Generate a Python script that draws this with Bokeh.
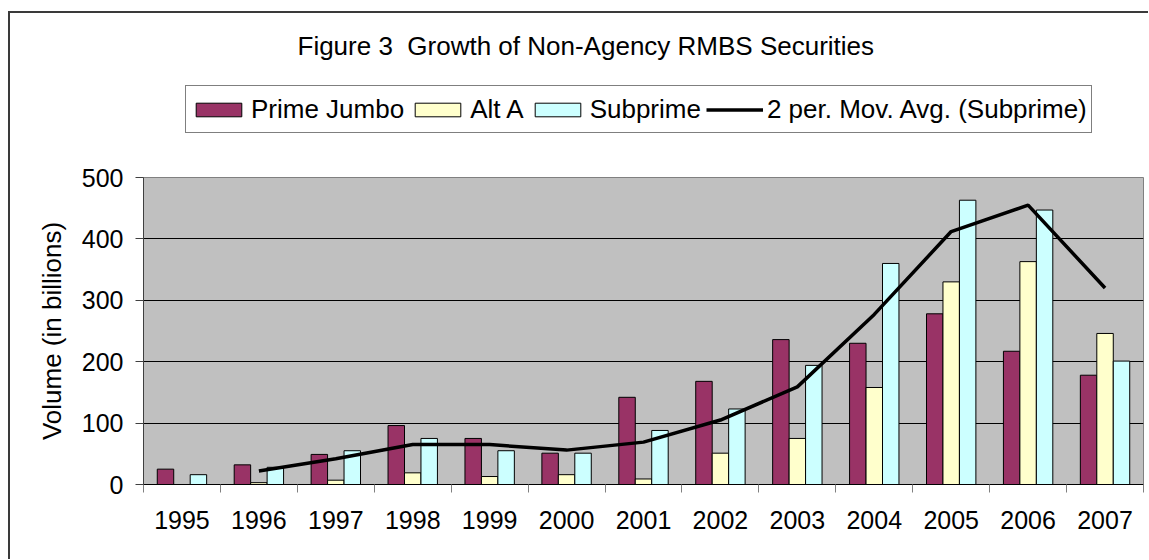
from bokeh.plotting import figure
from bokeh.layouts import column
from bokeh.models import Range1d, FixedTicker, Legend, LegendItem, ColumnDataSource, Label
from bokeh.transform import dodge
from bokeh.embed import file_html
from bokeh.resources import INLINE

years = [1995, 1996, 1997, 1998, 1999, 2000, 2001, 2002, 2003, 2004, 2005, 2006, 2007]
prime_jumbo = [25, 32, 49, 96, 75, 51, 142, 168, 236, 230, 278, 217, 178]
alt_a = [0, 3, 7, 19, 13, 16, 9, 51, 75, 158, 330, 363, 246]
subprime = [16, 28, 55, 75, 55, 51, 88, 123, 194, 360, 463, 447, 201]
mov_avg_years = [1996, 1997, 1998, 1999, 2000, 2001, 2002, 2003, 2004, 2005, 2006, 2007]
mov_avg = [22, 42, 65, 65, 56, 69, 105, 159, 277, 412, 455, 320]
y_ticks = [0, 100, 200, 300, 400, 500]
series_names = ["Prime Jumbo", "Alt A", "Subprime", "2 per. Mov. Avg. (Subprime)"]
title_text = "Figure 3\u00a0 Growth of Non-Agency RMBS Securities"

FONT = "Liberation Sans"
C_PRIME = "#993366"
C_ALT = "#FFFFCC"
C_SUB = "#CCFFFF"

W = 1140
TOP_H = 140
BOT_H = 408
FRAME_W = 1000

# ---------- header: title + legend (frame aligned with the chart's frame) ----------
head = figure(width=W, height=TOP_H, output_backend="svg", toolbar_location=None,
              x_range=Range1d(0, FRAME_W), y_range=Range1d(0, TOP_H),
              x_axis_type=None, y_axis_type=None,
              min_border_left=135, min_border_right=5, min_border_top=0, min_border_bottom=0)
try:
    head.title = None
except Exception:
    head.title.text = ""
    head.title.standoff = 0
    head.title.visible = False
head.outline_line_color = None
head.background_fill_color = None
head.border_fill_color = None
head.grid.visible = False

# far off-screen samples so that the legend can draw its swatches
d1 = head.vbar(x=[-9000], top=[-9000], bottom=[-9001], width=1,
               fill_color=C_PRIME, line_color="black", line_width=1)
d2 = head.vbar(x=[-9000], top=[-9000], bottom=[-9001], width=1,
               fill_color=C_ALT, line_color="black", line_width=1)
d3 = head.vbar(x=[-9000], top=[-9000], bottom=[-9001], width=1,
               fill_color=C_SUB, line_color="black", line_width=1)
d4 = head.line(x=[-9000, -8990], y=[-9000, -9000], line_color="black", line_width=3.5)

head.add_layout(Label(x=154, y=105.5, text=title_text, text_align="left",
                      text_baseline="alphabetic", text_font=FONT,
                      text_font_size="26px", text_color="black"))

legend = Legend(items=[LegendItem(label=n, renderers=[r])
                       for n, r in zip(series_names, [d1, d2, d3, d4])],
                orientation="horizontal", location=(42, 18))
legend.label_text_font = FONT
legend.label_text_font_size = "26px"
legend.label_text_color = "black"
legend.glyph_width = 57
legend.glyph_height = 17
legend.label_height = 38
legend.label_standoff = 4
legend.spacing = 5
legend.padding = 4
legend.margin = 0
legend.border_line_color = "black"
legend.border_line_width = 1
legend.background_fill_color = "white"
legend.background_fill_alpha = 1
head.add_layout(legend)

# ---------- chart ----------
pos = list(range(len(years)))
src = ColumnDataSource(dict(x=pos, prime=prime_jumbo, alt=alt_a, sub=subprime))
ma_pos = [years.index(y) for y in mov_avg_years]

p = figure(width=W, height=BOT_H, output_backend="svg", toolbar_location=None,
           x_range=Range1d(-0.5, len(years) - 0.5), y_range=Range1d(0, 500),
           min_border_left=135, min_border_right=5, min_border_top=26, min_border_bottom=75)
try:
    p.title = None
except Exception:
    p.title.text = ""
p.border_fill_color = None
p.background_fill_color = "#C0C0C0"
p.outline_line_color = "#808080"
p.outline_line_width = 1

bw = 0.214
p.vbar(x=dodge("x", -bw, range=p.x_range), top="prime", width=bw, source=src,
       fill_color=C_PRIME, line_color="black", line_width=1)
p.vbar(x=dodge("x", 0, range=p.x_range), top="alt", width=bw, source=src,
       fill_color=C_ALT, line_color="black", line_width=1)
p.vbar(x=dodge("x", bw, range=p.x_range), top="sub", width=bw, source=src,
       fill_color=C_SUB, line_color="black", line_width=1)
p.line(x=ma_pos, y=mov_avg, line_color="black", line_width=3.5)

p.xgrid.grid_line_color = None
p.ygrid.ticker = FixedTicker(ticks=[100, 200, 300, 400])
p.ygrid.grid_line_color = "black"
p.ygrid.grid_line_width = 1

xa = p.xaxis[0]
xa.ticker = FixedTicker(ticks=pos, minor_ticks=[i - 0.5 for i in range(len(years) + 1)])
xa.major_label_overrides = {i: str(y) for i, y in enumerate(years)}
xa.major_tick_line_color = None
xa.major_tick_out = 0
xa.major_tick_in = 0
xa.minor_tick_line_color = "#808080"
xa.minor_tick_out = 8
xa.minor_tick_in = 0
xa.axis_line_color = "black"
xa.major_label_text_font = FONT
xa.major_label_text_font_size = "25px"
xa.major_label_text_color = "black"
xa.major_label_standoff = 18

ya = p.yaxis[0]
ya.ticker = FixedTicker(ticks=y_ticks)
ya.minor_tick_line_color = None
ya.major_tick_out = 8
ya.major_tick_in = 0
ya.major_tick_line_color = "#404040"
ya.axis_line_color = "#404040"
ya.major_label_text_font = FONT
ya.major_label_text_font_size = "25px"
ya.major_label_text_color = "black"
ya.major_label_standoff = 12
ya.axis_label = "Volume (in billions)"
ya.axis_label_text_font = FONT
ya.axis_label_text_font_size = "26px"
ya.axis_label_text_font_style = "normal"
ya.axis_label_text_color = "black"
ya.axis_label_standoff = 12

layout = column(head, p, spacing=0)
layout.margin = (11, 0, 0, 8)
layout.styles = {"box-shadow": "inset 2px 2px 0 0 #3a3a3a"}

open("out.html", "w").write(file_html(layout, INLINE))
